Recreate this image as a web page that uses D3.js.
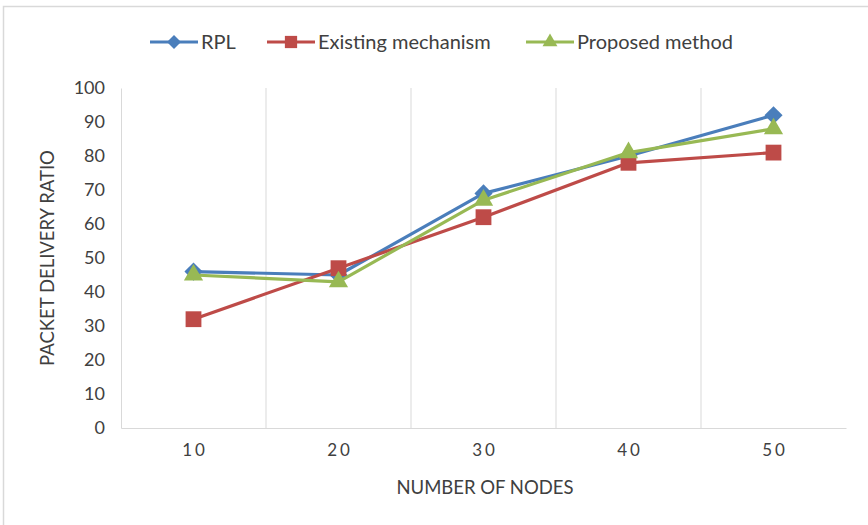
<!DOCTYPE html>
<html>
<head>
<meta charset="utf-8">
<script src="https://cdn.jsdelivr.net/npm/d3@7"></script>
<style>
  html, body { margin: 0; padding: 0; background: #fff; }
  svg { display: block; }
  text { font-family: Lato, "Open Sans", sans-serif; }
</style>
</head>
<body>
<svg id="chart" width="868" height="525"></svg>
<script>
// Packet delivery ratio by network size
const nodeCounts = ["10", "20", "30", "40", "50"];
const rplValues = [46, 45, 69, 80, 92];
const existingValues = [32, 47, 62, 78, 81];
const proposedValues = [45, 43, 67, 81, 88];
const yTicks = [0, 10, 20, 30, 40, 50, 60, 70, 80, 90, 100];

const series = [
  { name: "RPL", values: rplValues, color: "#4a7ebb", symbol: d3.symbolDiamond2 || d3.symbolDiamond, size: 210 },
  { name: "Existing mechanism", values: existingValues, color: "#be4b48", symbol: d3.symbolSquare, size: 250 },
  { name: "Proposed method", values: proposedValues, color: "#98b954", symbol: d3.symbolTriangle, size: 160 }
];

const svg = d3.select("#chart");
const W = 868, H = 525;
const plot = { left: 121, right: 846, top: 88, bottom: 428 };

// outer frame (left and top edges fall inside the canvas)
svg.append("rect")
  .attr("x", 3.5).attr("y", 6.5)
  .attr("width", W + 10).attr("height", H + 10)
  .attr("fill", "#fff").attr("stroke", "#d9d9d9").attr("stroke-width", 1.5);

const x = d3.scaleBand().domain(nodeCounts).range([plot.left, plot.right]).padding(0);
const y = d3.scaleLinear().domain([0, 100]).range([plot.bottom, plot.top]);

// vertical gridlines between categories
const bounds = nodeCounts.slice(1).map(c => x(c));
svg.append("g").selectAll("line").data(bounds).join("line")
  .attr("x1", d => d).attr("x2", d => d)
  .attr("y1", plot.top).attr("y2", plot.bottom)
  .attr("stroke", "#d9d9d9").attr("stroke-width", 1);

// y axis
const yAxis = svg.append("g")
  .attr("transform", `translate(${plot.left},0)`)
  .call(d3.axisLeft(y).tickValues(yTicks).tickSize(0).tickPadding(16));
yAxis.select(".domain").attr("stroke", "#d9d9d9");
yAxis.selectAll("text").attr("font-size", 18).attr("fill", "#404040");

// x axis
const xAxis = svg.append("g")
  .attr("transform", `translate(0,${plot.bottom})`)
  .call(d3.axisBottom(x).tickSize(0).tickPadding(16));
xAxis.select(".domain").attr("stroke", "#d9d9d9");
xAxis.selectAll("text").attr("font-size", 17).attr("fill", "#404040")
  .attr("letter-spacing", "3px").attr("dx", "1.5px");

// axis titles
svg.append("text")
  .attr("x", 485).attr("y", 494)
  .attr("text-anchor", "middle").attr("font-size", 18.5).attr("fill", "#404040")
  .text("NUMBER OF NODES");
svg.append("text")
  .attr("transform", `translate(54,${(plot.top + plot.bottom) / 2}) rotate(-90)`)
  .attr("text-anchor", "middle").attr("font-size", 18.5).attr("fill", "#404040")
  .text("PACKET DELIVERY RATIO");

// series lines and markers
const line = d3.line()
  .x((d, i) => x(nodeCounts[i]) + x.bandwidth() / 2)
  .y(d => y(d));

series.forEach(s => {
  svg.append("path")
    .attr("d", line(s.values))
    .attr("fill", "none").attr("stroke", s.color).attr("stroke-width", 3.2)
    .attr("stroke-linejoin", "round");
  svg.append("g").selectAll("path").data(s.values).join("path")
    .attr("transform", (d, i) => `translate(${x(nodeCounts[i]) + x.bandwidth() / 2},${y(d)})`)
    .attr("d", d3.symbol().type(s.symbol).size(s.size))
    .attr("fill", s.color);
});

// legend
const legendX = [150, 267, 526];
const legend = svg.append("g");
series.forEach((s, i) => {
  const g = legend.append("g").attr("transform", `translate(${legendX[i]},42)`);
  g.append("line").attr("x1", 0).attr("x2", 48).attr("y1", 0).attr("y2", 0)
    .attr("stroke", s.color).attr("stroke-width", 3);
  g.append("path").attr("transform", "translate(24,0)")
    .attr("d", d3.symbol().type(s.symbol).size(s.size * 0.6)).attr("fill", s.color);
  g.append("text").attr("x", 51).attr("y", 7)
    .attr("font-size", 20).attr("fill", "#404040").text(s.name);
});
</script>
</body>
</html>
